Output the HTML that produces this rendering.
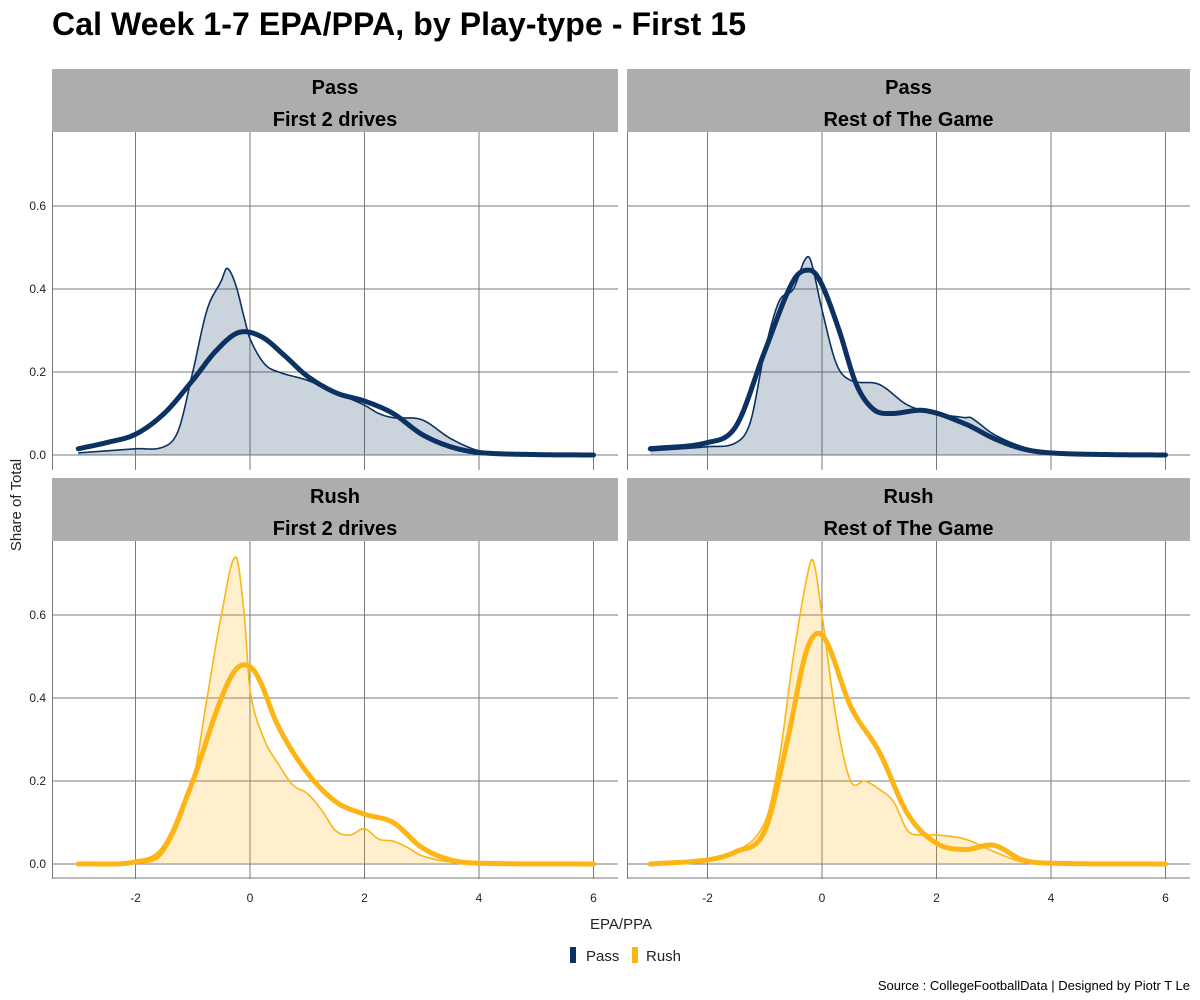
<!DOCTYPE html>
<html><head><meta charset="utf-8"><style>
body{margin:0;background:#fff;}
svg{display:block;font-family:"Liberation Sans",Arial,sans-serif;}
</style></head><body>
<svg id="chart" width="1200" height="1000">
<text x="52" y="35" font-size="32" font-weight="bold" fill="#000" textLength="694">Cal Week 1-7 EPA/PPA, by Play-type - First 15</text>
<text transform="translate(21,505) rotate(-90)" text-anchor="middle" font-size="15" fill="#222">Share of Total</text>
<text x="621" y="929" text-anchor="middle" font-size="15" fill="#222">EPA/PPA</text>
<g>
<rect x="570" y="947" width="6" height="16" fill="#0b3260"/>
<text x="586" y="961" font-size="15" fill="#222">Pass</text>
<rect x="632" y="947" width="6" height="16" fill="#fdb515"/>
<text x="646" y="961" font-size="15" fill="#222">Rush</text>
</g>
<text x="1190" y="990" text-anchor="end" font-size="13" fill="#000">Source : CollegeFootballData | Designed by Piotr T Le</text>
<g id="panels"></g>
</svg>
<script>
const xTicks=[-2,0,2,4,6];
const yTicks=[0,0.2,0.4,0.6];
const passFirstX=[-3,-2.5,-2,-1.5,-1.25,-1,-0.75,-0.5,-0.4,-0.25,-0.1,0,0.25,0.5,1,1.5,2,2.25,2.5,3,3.5,4,4.5,5,6];
const passFirstThin=[0.005,0.01,0.015,0.02,0.06,0.2,0.35,0.42,0.45,0.41,0.33,0.28,0.22,0.2,0.18,0.15,0.12,0.1,0.09,0.085,0.04,0.01,0.003,0.001,0];
const passFirstThickX=[-3,-2.5,-2,-1.5,-1,-0.6,-0.2,0.2,0.6,1,1.5,2,2.5,3,3.5,4,5,6];
const passFirstThick=[0.015,0.03,0.05,0.1,0.18,0.25,0.295,0.285,0.24,0.19,0.15,0.13,0.1,0.05,0.02,0.006,0.001,0];
const passRestX=[-3,-2,-1.5,-1.25,-1,-0.75,-0.5,-0.3,-0.2,0,0.25,0.5,1,1.5,2,2.5,2.6,3,3.5,4,5,6];
const passRestThin=[0.01,0.02,0.03,0.08,0.25,0.37,0.4,0.47,0.47,0.35,0.22,0.18,0.17,0.12,0.1,0.09,0.09,0.05,0.02,0.006,0.001,0];
const passRestThickX=[-3,-2,-1.5,-1,-0.5,-0.2,0,0.3,0.6,0.9,1.2,1.8,2.5,3,3.5,4,5,6];
const passRestThick=[0.015,0.03,0.07,0.25,0.42,0.445,0.41,0.3,0.17,0.11,0.1,0.107,0.075,0.04,0.015,0.005,0.001,0];
const rushFirstX=[-3,-2,-1.5,-1,-0.75,-0.5,-0.25,-0.1,0,0.25,0.5,0.75,1,1.25,1.5,1.75,2,2.25,2.5,2.75,3,3.5,4,6];
const rushFirstThin=[0,0.003,0.03,0.2,0.4,0.6,0.74,0.6,0.42,0.3,0.24,0.19,0.17,0.13,0.08,0.07,0.085,0.06,0.055,0.04,0.02,0.005,0.001,0];
const rushFirstThickX=[-3,-2,-1.5,-1,-0.5,-0.2,0.1,0.5,1,1.5,2,2.5,3,3.5,4,6];
const rushFirstThick=[0,0.005,0.04,0.2,0.4,0.475,0.46,0.33,0.22,0.15,0.12,0.1,0.04,0.01,0.002,0];
const rushRestX=[-3,-2,-1.5,-1,-0.75,-0.5,-0.25,-0.15,0,0.25,0.5,0.75,1,1.25,1.5,1.75,2,2.5,3,3.5,4,6];
const rushRestThin=[0,0.01,0.03,0.1,0.25,0.5,0.7,0.73,0.6,0.35,0.2,0.2,0.18,0.15,0.08,0.07,0.07,0.06,0.03,0.005,0.001,0];
const rushRestThickX=[-3,-2,-1.5,-1,-0.6,-0.3,-0.1,0.1,0.5,1,1.5,2,2.5,3,3.5,4,6];
const rushRestThick=[0,0.01,0.03,0.08,0.3,0.5,0.555,0.53,0.38,0.27,0.12,0.05,0.035,0.045,0.01,0.002,0];

const NS="http://www.w3.org/2000/svg";
const root=document.getElementById('panels');
function mk(tag,attrs,parent){const e=document.createElementNS(NS,tag);for(const k in attrs)e.setAttribute(k,attrs[k]);(parent||root).appendChild(e);return e;}
function interp(xs,ys){
  const n=xs.length,h=[],m=[];
  for(let i=0;i<n-1;i++)h[i]=xs[i+1]-xs[i];
  m[0]=(ys[1]-ys[0])/h[0];m[n-1]=(ys[n-1]-ys[n-2])/h[n-2];
  for(let i=1;i<n-1;i++)m[i]=(ys[i+1]-ys[i-1])/(xs[i+1]-xs[i-1]);
  return x=>{let i=0;while(i<n-2&&x>xs[i+1])i++;const t=(x-xs[i])/h[i],t2=t*t,t3=t2*t;
    return (2*t3-3*t2+1)*ys[i]+(t3-2*t2+t)*h[i]*m[i]+(-2*t3+3*t2)*ys[i+1]+(t3-t2)*h[i]*m[i+1];};
}
function pathD(xs,ys,sx,sy){
  const f=interp(xs,ys);const a=xs[0],b=xs[xs.length-1];let d='';
  for(let k=0;k<=450;k++){const x=a+(b-a)*k/450;d+=(k?' L':'M')+sx(x).toFixed(2)+','+sy(Math.max(0,f(x))).toFixed(2);}
  return d;
}
const panels=[
 {name:'pass-first',l:52,r:618,top:69,x0:250,y0:455,t1:'Pass',t2:'First 2 drives',col:'#0b3260',fill:'rgba(11,50,96,0.21)',tx:passFirstX,ty:passFirstThin,kx:passFirstThickX,ky:passFirstThick,yl:true,xl:false},
 {name:'pass-rest',l:627,r:1190,top:69,x0:822,y0:455,t1:'Pass',t2:'Rest of The Game',col:'#0b3260',fill:'rgba(11,50,96,0.21)',tx:passRestX,ty:passRestThin,kx:passRestThickX,ky:passRestThick,yl:false,xl:false},
 {name:'rush-first',l:52,r:618,top:478,x0:250,y0:864,t1:'Rush',t2:'First 2 drives',col:'#fdb515',fill:'rgba(253,181,21,0.21)',tx:rushFirstX,ty:rushFirstThin,kx:rushFirstThickX,ky:rushFirstThick,yl:true,xl:true},
 {name:'rush-rest',l:627,r:1190,top:478,x0:822,y0:864,t1:'Rush',t2:'Rest of The Game',col:'#fdb515',fill:'rgba(253,181,21,0.21)',tx:rushRestX,ty:rushRestThin,kx:rushRestThickX,ky:rushRestThick,yl:false,xl:true},
];
panels.forEach(P=>{
  const g=mk('g',{});
  
  
  const sx=v=>P.x0+v*57.25, sy=v=>P.y0-v*415;
  const pt=P.top+63, pb=P.top+63+334;
  const strip=mk('rect',{x:P.l,y:P.top,width:P.r-P.l,height:63,fill:'#adadad'},g);
  
  
  [[P.t1,P.top+25],[P.t2,P.top+57]].forEach(([t,y])=>{
    const tt=mk('text',{x:(P.l+P.r)/2,y:y,'text-anchor':'middle','font-size':20,'font-weight':'bold',fill:'#000'},g);
    tt.textContent=t;
    
    
  });
  yTicks.forEach(v=>{
    const ln=mk('line',{x1:P.l,x2:P.r,y1:sy(v),y2:sy(v),stroke:'#7a7a7a','stroke-width':1},g);
    
    
    if(P.yl){const t=mk('text',{x:P.l-6,y:sy(v)+4,'text-anchor':'end','font-size':12,fill:'#222'},g);t.textContent=v.toFixed(1);
      
      }
  });
  xTicks.forEach(v=>{
    const ln=mk('line',{x1:sx(v),x2:sx(v),y1:pt,y2:pb+4,stroke:'#7a7a7a','stroke-width':1},g);
    
    
    if(P.xl){const t=mk('text',{x:sx(v),y:pb+27,'text-anchor':'middle','font-size':12,fill:'#222'},g);t.textContent=v;
      
      }
  });
  const ax=mk('line',{x1:P.l+0.5,x2:P.l+0.5,y1:pt,y2:pb+4,stroke:'#7a7a7a'},g);
  
  
  if(P.xl){const bx=mk('line',{x1:P.l,x2:P.r,y1:pb+3,y2:pb+3,stroke:'#7a7a7a'},g);
    
    }
  const d=pathD(P.tx,P.ty,sx,sy);
  const area=mk('path',{d:d+` L${sx(P.tx[P.tx.length-1])},${sy(0)} L${sx(P.tx[0])},${sy(0)} Z`,fill:P.fill,stroke:'none'},g);
  
  
  const thin=mk('path',{d:d,fill:'none',stroke:P.col,'stroke-width':1.6},g);
  
  
  const thick=mk('path',{d:pathD(P.kx,P.ky,sx,sy),fill:'none',stroke:P.col,'stroke-width':5,'stroke-linecap':'round','stroke-linejoin':'round'},g);
  
  
});
</script>
</body></html>
